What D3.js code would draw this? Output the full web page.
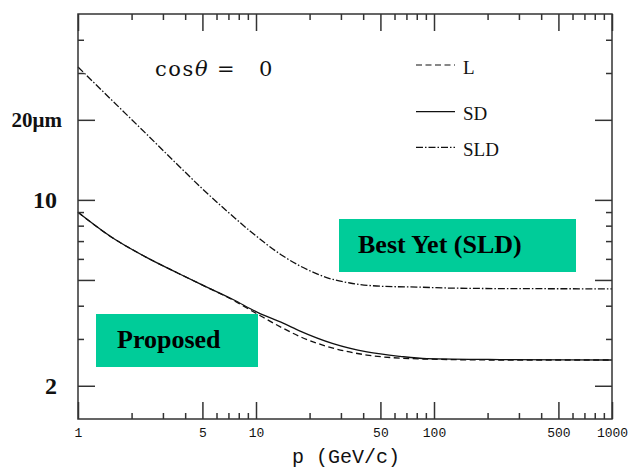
<!DOCTYPE html>
<html>
<head>
<meta charset="utf-8">
<script src="https://cdn.jsdelivr.net/npm/d3@7"></script>
<style>
  body { margin: 0; background: #fff; }
</style>
</head>
<body>
<div id="chart"></div>
<script>
// momentum (GeV/c) and resolution (um)
const pSLD = [1, 1.53, 2.38, 3.65, 5.04, 6.96, 9.25, 11.5, 14.2, 17.7, 22, 27.1, 33.7, 51.7, 80.3, 123, 235, 1000];
const sigmaSLD = [31.6, 23.9, 17.9, 13.5, 10.95, 9.0, 7.64, 6.80, 6.15, 5.64, 5.27, 5.02, 4.87, 4.73, 4.70, 4.66, 4.64, 4.63];

const pSD = [1, 1.53, 2.38, 3.65, 4.85, 7.43, 10.26, 14.2, 17.7, 27.1, 42, 64.4, 91.3, 235, 1000];
const sigmaSD = [8.98, 7.27, 6.12, 5.30, 4.83, 4.22, 3.77, 3.44, 3.21, 2.88, 2.68, 2.58, 2.53, 2.51, 2.50];

const pL = [1, 1.53, 2.38, 3.65, 4.85, 7.43, 10.26, 14.2, 17.7, 27.1, 42, 64.4, 91.3, 235, 1000];
const sigmaL = [8.98, 7.27, 6.12, 5.30, 4.83, 4.20, 3.71, 3.29, 3.06, 2.77, 2.61, 2.54, 2.52, 2.50, 2.50];

const xMajorTicks = [1, 5, 10, 50, 100, 500, 1000];
const xMinorTicks = [2, 3, 4, 6, 7, 8, 9, 20, 30, 40, 60, 70, 80, 90, 200, 300, 400, 600, 700, 800, 900];
const yMajorTicks = [2, 5, 10, 20];
const yMinorTicks = [3, 4, 6, 7, 8, 9, 30, 40];
const yLabelValues = [2, 10, 20];
const yLabelTexts = ["2", "10", "20\u03bcm"];

const seriesNames = ["L", "SD", "SLD"];

const W = 631, H = 470;
const plot = { left: 78, right: 612, top: 14, bottom: 419 };
const boxColor = "#00cc99";

const svg = d3.select("#chart").append("svg")
  .attr("width", W)
  .attr("height", H);

const x = d3.scaleLog().domain([1, 1000]).range([plot.left, plot.right]);
const y = d3.scaleLog().domain([1.5, 50]).range([plot.bottom, plot.top]);

const series = [
  { name: "L", p: pL, s: sigmaL, dash: "6,3.5" },
  { name: "SD", p: pSD, s: sigmaSD, dash: null },
  { name: "SLD", p: pSLD, s: sigmaSLD, dash: "7,2,1.5,2" }
];

const line = d3.line()
  .x(d => x(d[0]))
  .y(d => y(d[1]))
  .curve(d3.curveMonotoneX);

series.forEach(sr => {
  svg.append("path")
    .datum(sr.p.map((p, i) => [p, sr.s[i]]))
    .attr("fill", "none")
    .attr("stroke", "#111")
    .attr("stroke-width", 1.3)
    .attr("stroke-dasharray", sr.dash)
    .attr("d", line);
});

// axes: ticks point inward on all four sides
function styleAxis(g) {
  g.select(".domain").remove();
  g.selectAll(".tick line").attr("stroke", "#333").attr("stroke-width", 1.5);
}

svg.append("g")
  .attr("transform", `translate(0,${plot.bottom})`)
  .call(d3.axisBottom(x).tickValues(xMajorTicks).tickSizeInner(-17).tickSizeOuter(0)
    .tickPadding(9).tickFormat(d3.format("d")))
  .call(styleAxis)
  .selectAll("text")
  .style("font-family", "'Liberation Mono', 'Courier New', monospace")
  .style("font-size", "13px")
  .attr("fill", "#111");

svg.append("g")
  .attr("transform", `translate(0,${plot.bottom})`)
  .call(d3.axisBottom(x).tickValues(xMinorTicks).tickSizeInner(-6).tickSizeOuter(0).tickFormat(""))
  .call(styleAxis);

svg.append("g")
  .attr("transform", `translate(0,${plot.top})`)
  .call(d3.axisTop(x).tickValues(xMajorTicks).tickSizeInner(-17).tickSizeOuter(0).tickFormat(""))
  .call(styleAxis);

svg.append("g")
  .attr("transform", `translate(0,${plot.top})`)
  .call(d3.axisTop(x).tickValues(xMinorTicks).tickSizeInner(-6).tickSizeOuter(0).tickFormat(""))
  .call(styleAxis);

[[d3.axisLeft, plot.left], [d3.axisRight, plot.right]].forEach(([axisFn, pos]) => {
  svg.append("g")
    .attr("transform", `translate(${pos},0)`)
    .call(axisFn(y).tickValues(yMajorTicks).tickSizeInner(-17).tickSizeOuter(0).tickFormat(""))
    .call(styleAxis);
  svg.append("g")
    .attr("transform", `translate(${pos},0)`)
    .call(axisFn(y).tickValues(yMinorTicks).tickSizeInner(-6).tickSizeOuter(0).tickFormat(""))
    .call(styleAxis);
});

// frame
svg.append("rect")
  .attr("x", plot.left)
  .attr("y", plot.top)
  .attr("width", plot.right - plot.left)
  .attr("height", plot.bottom - plot.top)
  .attr("fill", "none")
  .attr("stroke", "#333")
  .attr("stroke-width", 1.5);

// y labels (bold serif, different sizes as in the slide)
svg.selectAll(".ylab")
  .data(yLabelValues)
  .enter().append("text")
  .attr("class", "ylab")
  .attr("x", d => d === 20 ? 62 : 57)
  .attr("y", d => y(d))
  .attr("dy", "0.35em")
  .attr("text-anchor", "end")
  .style("font-family", "'Liberation Serif', 'Times New Roman', serif")
  .style("font-weight", "bold")
  .style("font-size", d => d === 20 ? "21px" : "24px")
  .attr("fill", "#111")
  .text((d, i) => yLabelTexts[i]);

// x axis title
svg.append("text")
  .attr("x", 346)
  .attr("y", 463)
  .attr("text-anchor", "middle")
  .style("font-family", "'Liberation Mono', 'Courier New', monospace")
  .style("font-size", "20px")
  .attr("fill", "#111")
  .text("p (GeV/c)");

// cos theta annotation
const cosT = svg.append("text")
  .attr("y", 76)
  .style("font-family", "'DejaVu Serif', serif")
  .style("font-size", "21px")
  .attr("fill", "#111");
cosT.append("tspan").attr("x", 155).style("letter-spacing", "1.5px").text("cos");
cosT.append("tspan").attr("x", 195).style("font-style", "italic").text("\u03b8");
cosT.append("tspan").attr("x", 217).text("=");
cosT.append("tspan").attr("x", 259).text("0");

// legend
const legendY = [65, 111.7, 147.3];
const legend = svg.append("g");
series.forEach((sr, i) => {
  legend.append("line")
    .attr("x1", 416).attr("x2", 455)
    .attr("y1", legendY[i]).attr("y2", legendY[i])
    .attr("stroke", "#111")
    .attr("stroke-width", 1.2)
    .attr("stroke-dasharray", sr.dash);
  legend.append("text")
    .attr("x", 463)
    .attr("y", legendY[i])
    .attr("dy", 8.5)
    .style("font-family", "'Liberation Serif', 'Times New Roman', serif")
    .style("font-size", "19px")
    .attr("fill", "#111")
    .text(seriesNames[i]);
});

// green annotation boxes
const boxes = [
  { label: "Best Yet (SLD)", x: 339, y: 219, w: 237, h: 53, tx: 358, ty: 253 },
  { label: "Proposed", x: 96, y: 314, w: 162, h: 53, tx: 117, ty: 348 }
];
boxes.forEach(b => {
  svg.append("rect")
    .attr("x", b.x).attr("y", b.y)
    .attr("width", b.w).attr("height", b.h)
    .attr("fill", boxColor);
  svg.append("text")
    .attr("x", b.tx).attr("y", b.ty)
    .style("font-family", "'Liberation Serif', 'Times New Roman', serif")
    .style("font-weight", "bold")
    .style("font-size", "26px")
    .attr("fill", "#000")
    .text(b.label);
});
</script>
</body>
</html>
